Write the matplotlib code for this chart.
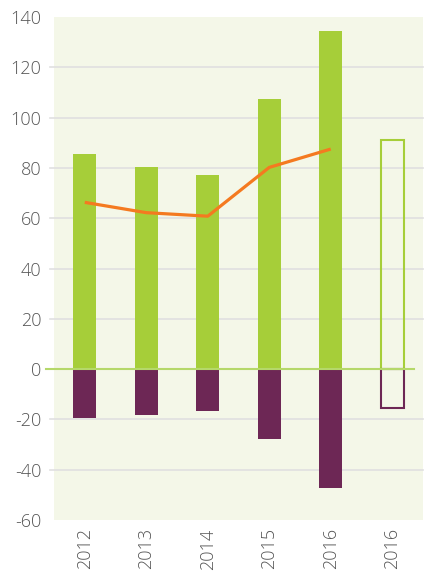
import matplotlib
matplotlib.use("Agg")
import matplotlib.pyplot as plt
import matplotlib.transforms as mtransforms

categories = ["2012", "2013", "2014", "2015", "2016", "2016"]
positive = [85.5, 80.3, 77.0, 107.2, 134.3]
negative = [-19.4, -18.3, -16.7, -27.6, -47.2]
line_values = [66.3, 62.2, 60.8, 80.2, 87.5]
target_positive = 91.0
target_negative = -15.5
yticks = [-60, -40, -20, 0, 20, 40, 60, 80, 100, 120, 140]

GREEN = "#A6CE39"
PURPLE = "#6D2755"
ORANGE = "#F47A20"
BG = "#F4F7E8"
GRID = "#E0E0E0"
TEXT = "#555555"

plt.rcParams['font.family'] = ['Open Sans', 'DejaVu Sans']

fig = plt.figure(figsize=(4.3, 5.71), dpi=100)
ax = fig.add_axes([54/430, 51/571, 369/430, 503/571])
ax.set_facecolor(BG)

x = list(range(len(positive)))
w = 0.37

trans = mtransforms.blended_transform_factory(ax.transAxes, ax.transData)
for t in yticks:
    if t in (-60, 140, 0):
        continue
    ax.plot([-0.012, 1.0], [t, t], color=GRID, lw=1.2, transform=trans,
            clip_on=False, zorder=1)

ax.bar(x, positive, width=w, color=GREEN, zorder=2)
ax.bar(x, negative, width=w, color=PURPLE, zorder=2)
hx = len(positive)
ax.bar([hx], [target_positive], width=w, facecolor="none", edgecolor=GREEN,
       linewidth=1.5, zorder=3)
ax.bar([hx], [target_negative], width=w, facecolor="none", edgecolor=PURPLE,
       linewidth=1.5, zorder=3)

ax.plot([-0.022, 0.975], [0, 0], color="#B5D86A", lw=1.5, transform=trans,
        clip_on=False, zorder=4)

ax.plot(x, line_values, color=ORANGE, lw=2.3, zorder=5, solid_capstyle="butt")

ax.set_xlim(-0.5, 5.5)
ax.set_ylim(-60, 140)
ax.set_yticks(yticks)
ax.set_yticklabels([str(t) for t in yticks], fontsize=13, color=TEXT,
                   fontweight="light")
ax.set_xticks(range(len(categories)))
ax.set_xticklabels(categories, rotation=90, fontsize=13, color=TEXT,
                   fontweight="light")
ax.tick_params(axis="both", length=0)
ax.tick_params(axis="y", pad=9)
ax.tick_params(axis="x", pad=6)
for s in ax.spines.values():
    s.set_visible(False)

fig.savefig("out.png", dpi=100)
